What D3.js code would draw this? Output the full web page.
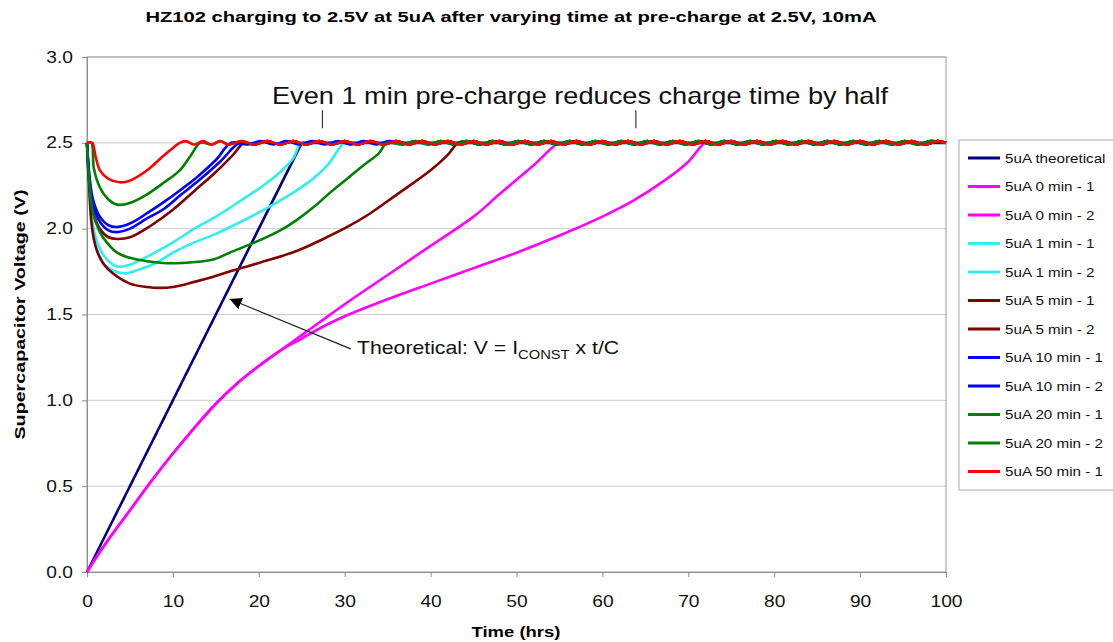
<!DOCTYPE html>
<html>
<head>
<meta charset="utf-8">
<script src="https://cdn.jsdelivr.net/npm/d3@7"></script>
<style>
  body { margin: 0; background: #fff; }
  svg { font-family: "Liberation Sans", Arial, sans-serif; }
</style>
</head>
<body>
<svg id="chart" width="1113" height="642"></svg>
<script>
// Valeurs : [temps (h), tension (V)]
const theoretical = [[0, 0], [25, 2.5], [100, 2.5]];

const min0_1 = [[0, 0], [1, 0.08], [2.5, 0.19], [5, 0.36], [7.5, 0.53], [10, 0.69], [12.5, 0.84],
  [15, 0.98], [17.5, 1.1], [20, 1.2], [22.5, 1.29], [25, 1.38], [27.5, 1.47], [30, 1.56], [35, 1.73],
  [40, 1.9], [45, 2.07], [48, 2.2], [52, 2.37], [55, 2.5]];
const min0_2 = [[0, 0], [1, 0.08], [2.5, 0.19], [5, 0.36], [7.5, 0.53], [10, 0.69], [12.5, 0.84],
  [15, 0.98], [17.5, 1.1], [20, 1.2], [22.5, 1.29], [25, 1.36], [27.5, 1.43], [30, 1.49], [34, 1.57],
  [40, 1.68], [45, 1.77], [50, 1.86], [55, 1.96], [60, 2.07], [63.5, 2.16], [67.5, 2.29], [70, 2.39], [72, 2.5]];

const min1_1 = [[0, 2.5], [0.2, 2.3], [0.5, 2.1], [1, 1.95], [2, 1.84], [3.5, 1.78], [5, 1.79], [7.5, 1.85],
  [10, 1.92], [12.5, 2.0], [15, 2.07], [17.5, 2.15], [20.5, 2.25], [22.5, 2.33], [24, 2.41], [24.9, 2.5]];
const min1_2 = [[0, 2.5], [0.2, 2.28], [0.5, 2.05], [1, 1.9], [2, 1.79], [4.2, 1.74], [6, 1.76], [8, 1.8],
  [10, 1.86], [12.5, 1.92], [15, 1.97], [17.5, 2.03], [21.3, 2.13], [24, 2.21], [26.3, 2.29], [28, 2.37], [30, 2.5]];

const min5_1 = [[0, 2.5], [0.3, 2.2], [0.6, 2.0], [1.1, 1.88], [2, 1.79], [3, 1.74], [5, 1.68], [7, 1.66],
  [8.5, 1.655], [10, 1.66], [12.5, 1.69], [14.7, 1.72], [16.6, 1.75], [20, 1.8], [24.4, 1.87], [27.5, 1.94],
  [30.3, 2.01], [33, 2.09], [36.1, 2.2], [40, 2.34], [42, 2.43], [43.2, 2.5]];
const min5_2 = [[0, 2.5], [0.3, 2.25], [0.7, 2.1], [1.5, 2.0], [2.5, 1.95], [3.5, 1.94], [5, 1.95], [7.5, 2.02],
  [10, 2.11], [12.5, 2.22], [15, 2.33], [17, 2.43], [18.3, 2.5]];

const min10_1 = [[0, 2.5], [0.3, 2.3], [0.7, 2.17], [1.5, 2.07], [2.5, 2.02], [3.5, 2.01], [5, 2.03], [7, 2.09],
  [8.8, 2.15], [11, 2.23], [12.8, 2.3], [15, 2.4], [16.8, 2.5]];
const min10_2 = [[0, 2.5], [0.3, 2.28], [0.7, 2.14], [1.5, 2.04], [2.5, 1.99], [3.5, 1.98], [5, 2.0], [7, 2.06],
  [8.8, 2.11], [11, 2.2], [13, 2.28], [15.5, 2.39], [17.8, 2.5]];

const min20_1 = [[0, 2.5], [0.5, 2.5], [0.8, 2.35], [1.5, 2.24], [2.5, 2.17], [3.5, 2.14], [5, 2.15], [7, 2.2],
  [9, 2.27], [10.8, 2.34], [12, 2.42], [13.2, 2.5]];
const min20_2 = [[0, 2.5], [0.3, 2.25], [0.7, 2.09], [1.5, 1.98], [2.3, 1.92], [3.5, 1.86], [5, 1.83], [7, 1.81],
  [8.8, 1.8], [11, 1.8], [14.7, 1.82], [16.6, 1.86], [20, 1.93], [22.5, 1.99], [24.4, 2.05], [26.5, 2.13],
  [28.3, 2.21], [30.5, 2.3], [32.2, 2.37], [34, 2.44], [34.9, 2.5]];

const min50_1 = [[0, 2.5], [0.6, 2.5], [1, 2.42], [1.5, 2.34], [2.5, 2.29], [3.8, 2.27], [5, 2.28], [7, 2.34],
  [8.8, 2.42], [10, 2.47], [10.8, 2.5]];

// Petites oscillations du palier à 2,5 V (régulation)
const plateauA = [[11.5, 2.51], [12.5, 2.49], [13.5, 2.51], [14.5, 2.49], [15.5, 2.51], [16.5, 2.49], [18, 2.51],
  [19.5, 2.49], [21, 2.51], [22.5, 2.49], [24, 2.51], [25.5, 2.49], [27, 2.51], [28.5, 2.49], [30, 2.51],
  [31.5, 2.49], [33, 2.51], [34.5, 2.49], [36, 2.51], [37.5, 2.49], [39, 2.51], [40.5, 2.49], [42, 2.51],
  [43.5, 2.49], [45, 2.51], [46.5, 2.49], [48, 2.51], [49.5, 2.49], [51, 2.51], [52.5, 2.49], [54, 2.51],
  [55.5, 2.49], [57, 2.51], [58.5, 2.49], [60, 2.51], [61.5, 2.49], [63, 2.51], [64.5, 2.49], [66, 2.51],
  [67.5, 2.49], [69, 2.51], [70.5, 2.49], [72, 2.51], [73.5, 2.49], [75, 2.51], [76.5, 2.49], [78, 2.51],
  [79.5, 2.49], [81, 2.51], [82.5, 2.49], [84, 2.51], [85.5, 2.49], [87, 2.51], [88.5, 2.49], [90, 2.51],
  [91.5, 2.49], [93, 2.51], [94.5, 2.49], [96, 2.51], [97.5, 2.49], [99, 2.51], [100, 2.5]];
const plateauB = [[12, 2.49], [13, 2.51], [14, 2.49], [15, 2.51], [16, 2.49], [17.2, 2.51], [18.7, 2.49],
  [20.2, 2.51], [21.7, 2.49], [23.2, 2.51], [24.7, 2.49], [26.2, 2.51], [27.7, 2.49], [29.2, 2.51], [30.7, 2.49],
  [32.2, 2.51], [33.7, 2.49], [35.2, 2.51], [36.7, 2.49], [38.2, 2.51], [39.7, 2.49], [41.2, 2.51], [42.7, 2.49],
  [44.2, 2.51], [45.7, 2.49], [47.2, 2.51], [48.7, 2.49], [50.2, 2.51], [51.7, 2.49], [53.2, 2.51], [54.7, 2.49],
  [56.2, 2.51], [57.7, 2.49], [59.2, 2.51], [60.7, 2.49], [62.2, 2.51], [63.7, 2.49], [65.2, 2.51], [66.7, 2.49],
  [68.2, 2.51], [69.7, 2.49], [71.2, 2.51], [72.7, 2.49], [74.2, 2.51], [75.7, 2.49], [77.2, 2.51], [78.7, 2.49],
  [80.2, 2.51], [81.7, 2.49], [83.2, 2.51], [84.7, 2.49], [86.2, 2.51], [87.7, 2.49], [89.2, 2.51], [90.7, 2.49],
  [92.2, 2.51], [93.7, 2.49], [95.2, 2.51], [96.7, 2.49], [98.2, 2.51], [100, 2.5]];

const seriesNames = ["5uA theoretical", "5uA 0 min - 1", "5uA 0 min - 2", "5uA 1 min - 1", "5uA 1 min - 2",
  "5uA 5 min - 1", "5uA 5 min - 2", "5uA 10 min - 1", "5uA 10 min - 2", "5uA 20 min - 1", "5uA 20 min - 2",
  "5uA 50 min - 1"];
const seriesValues = [theoretical, min0_1, min0_2, min1_1, min1_2, min5_1, min5_2, min10_1, min10_2,
  min20_1, min20_2, min50_1];
const seriesColors = ["#000080", "#ff00ff", "#ff00ff", "#33eeee", "#33eeee", "#800000", "#800000",
  "#0000ff", "#0000ff", "#008000", "#008000", "#ff0000"];
const seriesPlateau = [null, plateauA, plateauB, plateauA, plateauB, plateauB, plateauA, plateauB, plateauA,
  plateauA, plateauB, plateauA];

const xTicks = [0, 10, 20, 30, 40, 50, 60, 70, 80, 90, 100];
const yTicks = [0, 0.5, 1.0, 1.5, 2.0, 2.5, 3.0];

const svg = d3.select("#chart");
const margin = { left: 87, right: 946, top: 57, bottom: 572 };

const x = d3.scaleLinear().domain([0, 100]).range([margin.left, margin.right]);
const y = d3.scaleLinear().domain([0, 3]).range([margin.bottom, margin.top]);

// Le texte de l'original est plus large qu'Arial : on l'étire
const wide = 1.2;

// Titre
svg.append("text")
  .attr("x", 511).attr("y", 22)
  .attr("text-anchor", "middle")
  .attr("font-size", 15).attr("font-weight", "bold")
  .attr("textLength", 731).attr("lengthAdjust", "spacingAndGlyphs")
  .text("HZ102 charging to 2.5V at 5uA after varying time at pre-charge at 2.5V, 10mA");

// Grille horizontale
svg.append("g")
  .selectAll("line")
  .data(yTicks.slice(1))
  .enter()
  .append("line")
  .attr("x1", margin.left).attr("x2", margin.right)
  .attr("y1", (d) => y(d)).attr("y2", (d) => y(d))
  .attr("stroke", "#cccccc").attr("stroke-width", 1);

// Axes
const xAxis = svg.append("g")
  .attr("transform", `translate(0,${margin.bottom})`)
  .call(d3.axisBottom(x).tickValues(xTicks).tickSize(5).tickPadding(19).tickFormat(d3.format("d")));
const yAxis = svg.append("g")
  .attr("transform", `translate(${margin.left},0)`)
  .call(d3.axisLeft(y).tickValues(yTicks).tickSize(5).tickPadding(9).tickFormat(d3.format(".1f")));

[xAxis, yAxis].forEach((g) => {
  g.select(".domain").attr("stroke", "#888");
  g.selectAll(".tick line").attr("stroke", "#888");
  g.selectAll(".tick text")
    .attr("font-size", 16)
    .attr("font-family", "'Liberation Sans', Arial, sans-serif")
    .attr("fill", "#111");
});
xAxis.selectAll(".tick text").attr("transform", `scale(${wide},1)`);
yAxis.selectAll(".tick text").attr("x", -14 / wide).attr("transform", `scale(${wide},1)`);

// Cadre du tracé
svg.append("rect")
  .attr("x", margin.left).attr("y", margin.top)
  .attr("width", margin.right - margin.left).attr("height", margin.bottom - margin.top)
  .attr("fill", "none").attr("stroke", "#999");

// Courbes
const line = d3.line().x((d) => x(d[0])).y((d) => y(d[1])).curve(d3.curveCatmullRom.alpha(0.5));
const straight = d3.line().x((d) => x(d[0])).y((d) => y(d[1]));

const plot = svg.append("g");
seriesValues.forEach((vals, i) => {
  const last = vals[vals.length - 1][0];
  const tail = seriesPlateau[i] ? seriesPlateau[i].filter((p) => p[0] > last + 0.4) : [];
  plot.append("path")
    .datum(vals.concat(tail))
    .attr("fill", "none")
    .attr("stroke", seriesColors[i])
    .attr("stroke-width", 2.6)
    .attr("stroke-linejoin", "round")
    .attr("d", i === 0 ? straight : line);
});

// Annotation du haut
svg.append("text")
  .attr("x", 580).attr("y", 104)
  .attr("text-anchor", "middle")
  .attr("font-size", 24)
  .attr("fill", "#111")
  .attr("textLength", 616).attr("lengthAdjust", "spacingAndGlyphs")
  .text("Even 1 min pre-charge reduces charge time by half");

[27.4, 63.9].forEach((t) => {
  svg.append("line")
    .attr("x1", x(t)).attr("x2", x(t))
    .attr("y1", y(2.69)).attr("y2", y(2.585))
    .attr("stroke", "#111").attr("stroke-width", 1);
});

// Flèche vers la droite théorique
svg.append("defs")
  .append("marker")
  .attr("id", "arrow")
  .attr("viewBox", "0 -5 10 10")
  .attr("refX", 10).attr("refY", 0)
  .attr("markerWidth", 12).attr("markerHeight", 12)
  .attr("markerUnits", "userSpaceOnUse")
  .attr("orient", "auto")
  .append("path")
  .attr("d", "M0,-5L10,0L0,5Z")
  .attr("fill", "#000");

svg.append("line")
  .attr("x1", x(30.7)).attr("y1", y(1.3))
  .attr("x2", x(16.6)).attr("y2", y(1.59))
  .attr("stroke", "#222").attr("stroke-width", 1.2)
  .attr("marker-end", "url(#arrow)");

const note = svg.append("text")
  .attr("transform", "translate(357,354) scale(1.18,1)")
  .attr("font-size", 18)
  .attr("fill", "#111");
note.append("tspan").text("Theoretical: V = I");
note.append("tspan").attr("font-size", 12.5).attr("dy", 5).text("CONST");
note.append("tspan").attr("dy", -5).text(" x t/C");

// Titres des axes
svg.append("text")
  .attr("x", 516).attr("y", 637)
  .attr("text-anchor", "middle")
  .attr("font-size", 15).attr("font-weight", "bold")
  .attr("textLength", 89).attr("lengthAdjust", "spacingAndGlyphs")
  .text("Time (hrs)");

svg.append("text")
  .attr("transform", `translate(25,${(margin.top + margin.bottom) / 2}) rotate(-90)`)
  .attr("text-anchor", "middle")
  .attr("font-size", 15).attr("font-weight", "bold")
  .attr("textLength", 250).attr("lengthAdjust", "spacingAndGlyphs")
  .text("Supercapacitor Voltage (V)");

// Légende
const legend = svg.append("g").attr("transform", "translate(959,140)");
legend.append("rect")
  .attr("width", 170).attr("height", 350)
  .attr("fill", "#fff").attr("stroke", "#aaa");

const item = legend.selectAll(".item")
  .data(seriesNames)
  .enter()
  .append("g")
  .attr("class", "item")
  .attr("transform", (d, i) => `translate(0,${18 + i * 28.5})`);

item.append("line")
  .attr("x1", 9).attr("x2", 41)
  .attr("stroke", (d, i) => seriesColors[i])
  .attr("stroke-width", 3);

item.append("text")
  .attr("transform", "translate(46,0) scale(1.17,1)")
  .attr("dy", "0.35em")
  .attr("font-size", 13)
  .attr("fill", "#111")
  .text((d) => d);
</script>
</body>
</html>
